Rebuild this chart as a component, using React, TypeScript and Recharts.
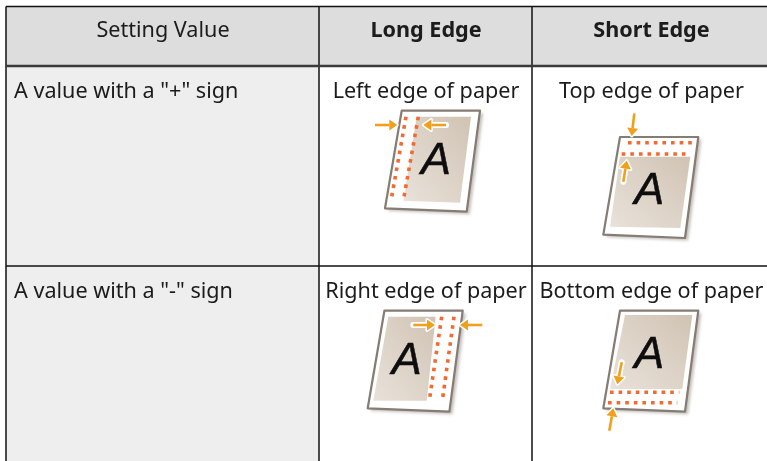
import React from "react";
import { ComposedChart, Scatter, XAxis, YAxis, ReferenceArea, ReferenceLine } from "recharts";

const W = 767;
const H = 461;
const FONT = "'Noto Sans', sans-serif";

// Table structure
const columnEdges = [6, 319, 532, 770];
const rowEdges = [6.5, 66, 266, 470];

const headerLabels = [
  { x: 163, y: 37, text: "Setting Value", weight: 400 },
  { x: 426, y: 37, text: "Long Edge", weight: 700 },
  { x: 651.5, y: 37, text: "Short Edge", weight: 700 },
];
const rowLabels = [
  { x: 14, y: 98, text: 'A value with a "+" sign', anchor: "start" },
  { x: 14, y: 298, text: 'A value with a "-" sign', anchor: "start" },
];
const cellLabels = [
  { x: 426, y: 98, text: "Left edge of paper", anchor: "middle" },
  { x: 651.5, y: 98, text: "Top edge of paper", anchor: "middle" },
  { x: 426, y: 298, text: "Right edge of paper", anchor: "middle" },
  { x: 651.5, y: 298, text: "Bottom edge of paper", anchor: "middle" },
];

// Paper illustrations: anchor = top-left of each paper's bounding box
const papers = [
  { x: 385, y: 110.7, kind: "left" },
  { x: 603.3, y: 137, kind: "top" },
  { x: 367.7, y: 310.7, kind: "right" },
  { x: 603.3, y: 310.7, kind: "bottom" },
];

type Pt = [number, number];
interface Art {
  tan: Pt[];
  dots: [Pt, Pt][];
  arrows: [Pt, Pt][];
  letter: Pt;
}
const art: Record<string, Art> = {
  left: {
    tan: [[31.7, 6], [86, 6], [75, 92], [18.3, 90]],
    dots: [[[21, 6], [6, 90]], [[33.3, 6], [18.3, 90]]],
    arrows: [[[-10, 14.3], [12.3, 14.3]], [[61, 14.3], [38.3, 14.3]]],
    letter: [51, 47.3],
  },
  top: {
    tan: [[16.7, 19.7], [87, 19.7], [77, 91], [6.7, 89.7]],
    dots: [[[24.7, 5.7], [89, 5.7]], [[18.4, 17], [87, 17]]],
    arrows: [[[31, -23.7], [28.4, -1]], [[20, 44.7], [23.4, 23.7]]],
    letter: [46, 51.3],
  },
  right: {
    tan: [[20.6, 6], [68, 6], [59, 90], [5.6, 90]],
    dots: [[[74, 6], [61.6, 90]], [[86.3, 6], [74.6, 90]]],
    arrows: [[[45.6, 14.3], [67.3, 14.3]], [[114.6, 14.3], [92.3, 14.3]]],
    letter: [39, 47.6],
  },
  bottom: {
    tan: [[21.7, 4.3], [89, 4.3], [79, 78.3], [6.7, 78.3]],
    dots: [[[6.7, 81.6], [76, 81.6]], [[4.7, 92], [74, 92]]],
    arrows: [[[18.4, 51.6], [14, 73.6]], [[6, 120], [10, 97.6]]],
    letter: [46, 41],
  },
};

const chartData = [{ x: 0, y: 0 }];

function pts(p: Pt[]) {
  return p.map((q) => q.join(",")).join(" ");
}

function Arrow({ from, to }: { from: Pt; to: Pt }) {
  const dx = to[0] - from[0];
  const dy = to[1] - from[1];
  const len = Math.hypot(dx, dy);
  const ux = dx / len;
  const uy = dy / len;
  const head = 8;
  const base: Pt = [to[0] - ux * head, to[1] - uy * head];
  const wing = 5.5;
  const tri: Pt[] = [to, [base[0] - uy * wing, base[1] + ux * wing], [base[0] + uy * wing, base[1] - ux * wing]];
  return (
    <g>
      <line x1={from[0]} y1={from[1]} x2={base[0]} y2={base[1]} stroke="#fff" strokeWidth={6} strokeLinecap="round" />
      <polygon points={pts(tri)} fill="#fff" stroke="#fff" strokeWidth={3} strokeLinejoin="round" />
      <line x1={from[0]} y1={from[1]} x2={base[0]} y2={base[1]} stroke="#f0a01e" strokeWidth={2.6} />
      <polygon points={pts(tri)} fill="#f0a01e" />
    </g>
  );
}

function Paper(props: any) {
  const { cx, cy, payload } = props;
  const a = art[payload.kind];
  const outline: Pt[] = [[16.7, 0], [95, 0], [81.7, 101], [0, 97.6]];
  const gid = `tan-${payload.kind}`;
  return (
    <g transform={`translate(${cx},${cy})`}>
      <defs>
        <linearGradient id={gid} x1="0" y1="1" x2="1" y2="0">
          <stop offset="0" stopColor="#e9e2da" />
          <stop offset="1" stopColor="#d0c3b3" />
        </linearGradient>
      </defs>
      <polygon points={pts(outline)} transform="translate(3,2.5)" fill="#a9a39d" opacity={0.7} filter="url(#shadow)" />
      <g filter="url(#soft)">
        <polygon points={pts(outline)} fill="#fff" stroke="#857b73" strokeWidth={2.2} strokeLinejoin="round" />
        <polygon points={pts(a.tan)} fill={`url(#${gid})`} />
        <text
          x={a.letter[0]}
          y={a.letter[1] + 16}
          textAnchor="middle"
          fontFamily="'Liberation Sans', sans-serif"
          fontStyle="italic"
          fontSize={45}
          fill="#111"
          stroke="#111"
          strokeWidth={0.5}
        >
          A
        </text>
        {a.dots.map((d, i) => (
          <line
            key={i}
            x1={d[0][0]}
            y1={d[0][1]}
            x2={d[1][0]}
            y2={d[1][1]}
            stroke="#f26a30"
            strokeWidth={3.6}
            strokeDasharray="3.6 5"
          />
        ))}
        {a.arrows.map((r, i) => (
          <Arrow key={i} from={r[0]} to={r[1]} />
        ))}
      </g>
    </g>
  );
}

function Label(props: any) {
  const { cx, cy, payload } = props;
  return (
    <text
      x={cx}
      y={cy}
      textAnchor={payload.anchor ?? "middle"}
      fontFamily={FONT}
      fontSize={21.6}
      fontWeight={payload.weight ?? 400}
      fill="#1a1a1a"
      filter="url(#textsoft)"
    >
      {payload.text}
    </text>
  );
}

export default function App() {
  const [c0, c1, c2, c3] = columnEdges;
  const [r0, r1, r2, r3] = rowEdges;
  const stroke = "#111";
  return (
    <div style={{ position: "absolute", left: 0, top: 0, width: W, height: H, overflow: "hidden", background: "#fff" }}>
      <ComposedChart width={W} height={H} data={chartData} margin={{ top: 0, right: 0, bottom: 0, left: 0 }}>
        <defs>
          <filter id="soft" x="-40%" y="-40%" width="180%" height="180%">
            <feGaussianBlur stdDeviation="0.7" />
          </filter>
          <filter id="shadow" x="-30%" y="-30%" width="160%" height="160%">
            <feGaussianBlur stdDeviation="1.4" />
          </filter>
          <filter id="textsoft" x="-5%" y="-30%" width="110%" height="160%">
            <feGaussianBlur stdDeviation="0.35" />
          </filter>
        </defs>
        <XAxis type="number" dataKey="x" domain={[0, W]} hide allowDataOverflow />
        <YAxis type="number" dataKey="y" domain={[0, H]} reversed hide allowDataOverflow width={0} />
        <ReferenceArea x1={c0} x2={c3} y1={r0} y2={r1} fill="#dddddd" fillOpacity={1} stroke="none" ifOverflow="hidden" />
        <ReferenceArea x1={c0} x2={c1} y1={r1} y2={r3} fill="#eeeeee" fillOpacity={1} stroke="none" ifOverflow="hidden" />
        {[c0, c1, c2].map((x) => (
          <ReferenceLine key={x} segment={[{ x, y: r0 }, { x, y: H }]} stroke={stroke} strokeWidth={1.5} ifOverflow="hidden" />
        ))}
        {[r0, r2].map((y) => (
          <ReferenceLine key={y} segment={[{ x: c0, y }, { x: W, y }]} stroke={stroke} strokeWidth={1.7} ifOverflow="hidden" />
        ))}
        <ReferenceLine segment={[{ x: c0, y: r1 }, { x: W, y: r1 }]} stroke="#3a3a3a" strokeWidth={2.4} ifOverflow="hidden" />
        <Scatter data={headerLabels} dataKey="y" shape={Label} isAnimationActive={false} />
        <Scatter data={rowLabels} dataKey="y" shape={Label} isAnimationActive={false} />
        <Scatter data={cellLabels} dataKey="y" shape={Label} isAnimationActive={false} />
        <Scatter data={papers} dataKey="y" shape={Paper} isAnimationActive={false} />
      </ComposedChart>
    </div>
  );
}
